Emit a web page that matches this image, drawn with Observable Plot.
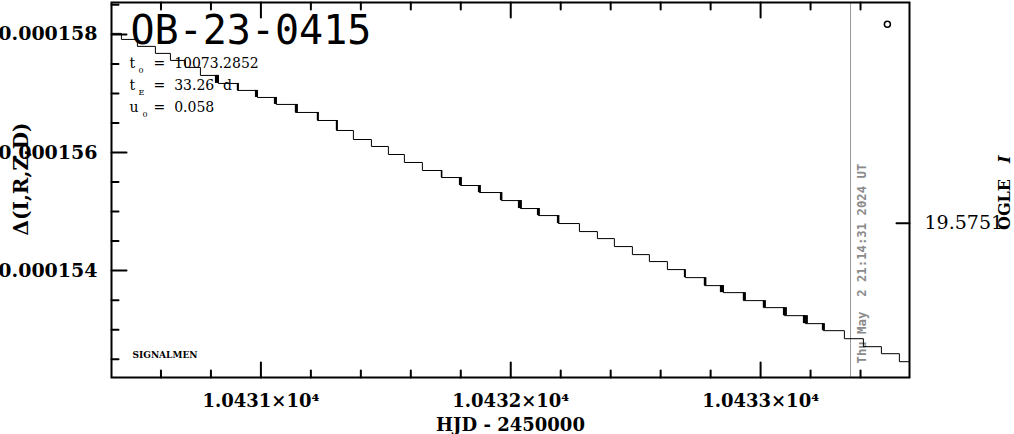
<!DOCTYPE html>
<html><head><meta charset="utf-8">
<script src="https://cdn.jsdelivr.net/npm/d3@7"></script>
<script src="https://cdn.jsdelivr.net/npm/@observablehq/plot@0.6"></script>
<style>
html,body{margin:0;padding:0;background:#fff;}
svg text{white-space:pre;}
</style></head><body><div id="chart"></div>
<script>
// ---- data ----
const stepT = [10430.4016,10430.4417,10430.5057,10430.5777,10430.6378,10430.6978,10430.7579,10430.8299,10430.9059,10430.9860,
  10431.0620,10431.1381,10431.2261,10431.3022,10431.3702,10431.4423,10431.5103,10431.5743,10431.6464,10431.7224,
  10431.7985,10431.8745,10431.9626,10432.0386,10432.1107,10432.1907,10432.2748,10432.3468,10432.4148,10432.4869,
  10432.5549,10432.6270,10432.6990,10432.7751,10432.8511,10432.9312,10433.0112,10433.0953,10433.1793,10433.2514,
  10433.3354,10433.4114,10433.4835,10433.5555,10433.5956];
const stepD = [0.000158017,0.000157915,0.000157797,0.000157678,0.000157559,0.000157441,0.000157305,0.000157169,0.000157051,0.000156932,
  0.000156814,0.000156678,0.000156542,0.000156373,0.000156220,0.000156102,0.000155966,0.000155831,0.000155695,0.000155576,
  0.000155441,0.000155322,0.000155186,0.000155051,0.000154932,0.000154797,0.000154661,0.000154542,0.000154407,0.000154271,
  0.000154153,0.000154017,0.000153881,0.000153746,0.000153627,0.000153492,0.000153373,0.000153237,0.000153102,0.000152983,
  0.000152847,0.000152712,0.000152593,0.000152458,0.000152458];
const blobT1 = [10430.8179,10430.9059,10430.9780,10431.0540,10431.1381,10431.2261,10431.3022,10431.7224,10431.7945,10431.8705,
  10431.9586,10432.0306,10432.1067,10432.1867,10432.6950,10432.7751,10432.8391,10432.9312,10433.0112,10433.0913,10433.1713,10433.2473];
const blobT2 = [10430.8339,10430.9140,10430.9900,10431.0660,10431.1501,10431.2341,10431.3102,10431.7284,10431.8065,10431.8825,
  10431.9686,10432.0466,10432.1187,10432.1967,10432.7010,10432.7851,10432.8551,10432.9432,10433.0232,10433.1073,10433.1913,10433.2594];
const blobHi = [0.000157305,0.000157169,0.000157051,0.000156932,0.000156814,0.000156678,0.000156542,0.000155695,0.000155576,0.000155441,
  0.000155322,0.000155186,0.000155051,0.000154932,0.000154017,0.000153881,0.000153746,0.000153627,0.000153492,0.000153373,0.000153237,0.000153102];
const blobLo = [0.000157169,0.000157051,0.000156932,0.000156814,0.000156678,0.000156542,0.000156373,0.000155576,0.000155441,0.000155322,
  0.000155186,0.000155051,0.000154932,0.000154797,0.000153881,0.000153746,0.000153627,0.000153492,0.000153373,0.000153237,0.000153102,0.000152983];
const pointT = [10433.5075];
const pointD = [0.00015817];
const markerT = [10433.36];
const dateText = "Thu May  2 21:14:31 2024 UT";
const titleText = "OB-23-0415";
const paramSym = ["t","t","u"];
const paramSub = ["0","E","0"];
const paramVal = ["=  10073.2852","=  33.26  d","=  0.058"];
const signature = "SIGNALMEN";
const xMajor = [10431,10432,10433];
const xMajorLabels = ["1.0431×10⁴","1.0432×10⁴","1.0433×10⁴"];
const xMinor = [10430.6,10430.8,10431.2,10431.4,10431.6,10431.8,10432.2,10432.4,10432.6,10432.8,10433.2,10433.4];
const yMajor = [0.000154,0.000156,0.000158];
const yMajorLabels = ["0.000154","0.000156","0.000158"];
const yMinor = [0.0001525,0.000153,0.0001535,0.0001545,0.000155,0.0001555,0.0001565,0.000157,0.0001575,0.0001585];
const rightTick = [0.0001548];
const rightTickLabels = ["19.5751"];
const xLabel = "HJD - 2450000";
const yLabel = "Δ(I,R,Z,D)";
const rightLabelMain = "OGLE";
const rightLabelBand = "I";

// ---- layout ----
const serif = "DejaVu Serif", mono = "DejaVu Sans Mono";
const tickShape = {draw(ctx, l){ ctx.moveTo(0,0); ctx.lineTo(0,-l); }};
const steps = stepT.map((t,i)=>({t, d: stepD[i]}));
const blobs = blobT1.map((t,i)=>({t1:t, t2:blobT2[i], hi:blobHi[i], lo:blobLo[i]}));
const pts = pointT.map((t,i)=>({t, d: pointD[i]}));
const tickOpts = {anchor:"start", shape:tickShape, stroke:"#000", strokeWidth:2};
const subDx = [27,27,31];

const paramMarks = [];
[0,1,2].forEach(i=>{
  const base = 65 + 22*i;
  paramMarks.push(Plot.text([paramSym[i]], {text:d=>d, frameAnchor:"top-left", dx:18, dy:base, textAnchor:"start", lineAnchor:"bottom", fontSize:14, fontFamily:serif}));
  paramMarks.push(Plot.text([paramSub[i]], {text:d=>d, frameAnchor:"top-left", dx:subDx[i], dy:base+5, textAnchor:"start", lineAnchor:"bottom", fontSize:8, fontFamily:serif}));
  paramMarks.push(Plot.text([paramVal[i]], {text:d=>d, frameAnchor:"top-left", dx:42, dy:base, textAnchor:"start", lineAnchor:"bottom", fontSize:14, fontFamily:serif}));
});

const chart = Plot.plot({
  width:1014, height:434,
  marginLeft:111, marginRight:105, marginTop:2, marginBottom:57,
  x:{domain:[10430.402,10433.596], axis:null},
  y:{domain:[0.00015219,0.00015854], axis:null},
  style:{fontFamily:serif, background:"#fff", color:"#000", overflow:"visible"},
  marks:[
    Plot.ruleX(markerT, {x:d=>d, stroke:"#999", strokeWidth:1}),
    Plot.text(markerT, {x:d=>d, text:()=>dateText, frameAnchor:"bottom", dx:15, dy:-14, rotate:-90, textAnchor:"start", lineAnchor:"bottom", fill:"#8a8a8a", fontFamily:mono, fontWeight:"bold", fontSize:12.3}),
    Plot.line(steps, {x:"t", y:"d", curve:"step-after", stroke:"#000", strokeWidth:1}),
    Plot.rect(blobs, {x1:"t1", x2:"t2", y1:"lo", y2:"hi", fill:"#000"}),
    Plot.dot(pts, {x:"t", y:"d", r:3, stroke:"#000", strokeWidth:1.5, fill:"none"}),
    // ticks
    Plot.vector(xMajor, {x:d=>d, frameAnchor:"bottom", rotate:0, length:15, ...tickOpts}),
    Plot.vector(xMinor, {x:d=>d, frameAnchor:"bottom", rotate:0, length:7, ...tickOpts}),
    Plot.vector(xMajor, {x:d=>d, frameAnchor:"top", rotate:180, length:15, ...tickOpts}),
    Plot.vector(xMinor, {x:d=>d, frameAnchor:"top", rotate:180, length:7, ...tickOpts}),
    Plot.vector(yMajor, {y:d=>d, frameAnchor:"left", rotate:90, length:15, ...tickOpts}),
    Plot.vector(yMinor, {y:d=>d, frameAnchor:"left", rotate:90, length:7, ...tickOpts}),
    Plot.vector(rightTick, {y:d=>d, frameAnchor:"right", rotate:-90, length:13, ...tickOpts}),
    Plot.frame({stroke:"#000", strokeWidth:2}),
    // labels
    Plot.text(xMajor, {x:d=>d, text:(d,i)=>xMajorLabels[i], frameAnchor:"bottom", dy:29, lineAnchor:"bottom", fontSize:18, fontWeight:"bold", fontFamily:serif}),
    Plot.text([xLabel], {text:d=>d, frameAnchor:"bottom", dy:53, lineAnchor:"bottom", fontSize:18, fontWeight:"bold", fontFamily:serif, letterSpacing:"1px", wordSpacing:"5px"}),
    Plot.text(yMajor, {y:d=>d, text:(d,i)=>yMajorLabels[i], frameAnchor:"left", dx:-14, textAnchor:"end", lineAnchor:"middle", fontSize:19, fontWeight:"bold", fontFamily:serif}),
    Plot.text([yLabel], {text:d=>d, frameAnchor:"left", dx:-84, dy:-11, rotate:-90, textAnchor:"middle", lineAnchor:"bottom", fontSize:20, fontWeight:"bold", fontFamily:serif, letterSpacing:"1px"}),
    Plot.text(rightTick, {y:d=>d, text:(d,i)=>rightTickLabels[i], frameAnchor:"right", dx:15, textAnchor:"start", lineAnchor:"middle", fontSize:19, fontFamily:serif}),
    Plot.text([rightLabelMain], {text:d=>d, frameAnchor:"right", dx:100, dy:40, rotate:-90, textAnchor:"start", lineAnchor:"bottom", fontSize:16, fontWeight:"bold", fontFamily:serif}),
    Plot.text([rightLabelBand], {text:d=>d, frameAnchor:"right", dx:100, dy:-27, rotate:-90, textAnchor:"start", lineAnchor:"bottom", fontSize:16, fontWeight:"bold", fontStyle:"italic", fontFamily:serif}),
    Plot.text([titleText], {text:d=>d, frameAnchor:"top-left", dx:19, dy:41, textAnchor:"start", lineAnchor:"bottom", fontSize:40, fontFamily:mono}),
    ...paramMarks,
    Plot.text([signature], {text:d=>d, frameAnchor:"bottom-left", dx:21, dy:-20, textAnchor:"start", lineAnchor:"bottom", fontSize:9, fontWeight:"bold", fontFamily:serif})
  ]
});
document.getElementById("chart").appendChild(chart);
</script></body></html>
